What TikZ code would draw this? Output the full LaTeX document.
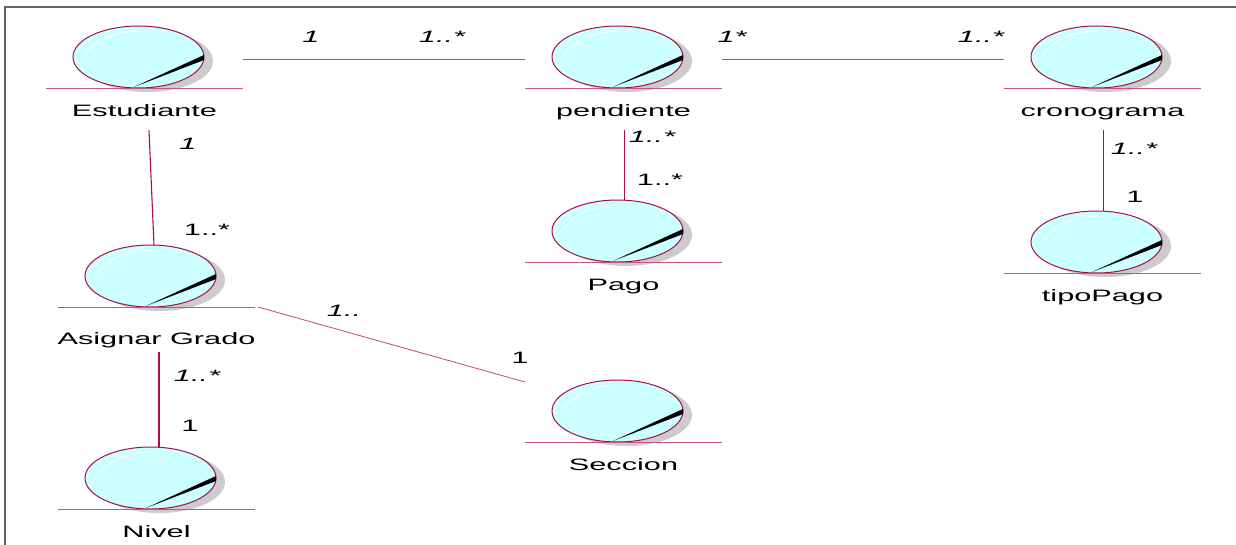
\documentclass[tikz,border=0pt]{standalone}
\usepackage{fontspec}
\setmainfont[FakeStretch=1.86]{Liberation Sans}
\usetikzlibrary{positioning}
\definecolor{linea}{HTML}{A80F45}
\definecolor{relleno}{HTML}{CCFFFF}
\definecolor{sombra}{HTML}{CCCCCC}
\definecolor{marco}{HTML}{666666}
\tikzset{
  clase/.style={rectangle, minimum width=197pt, minimum height=62pt, inner sep=0pt, outer sep=0pt},
  nombre/.style={inner sep=0pt, text height=12pt, text depth=3pt, font=\fontsize{16.5}{18}\selectfont},
  mult/.style={inner sep=0pt, font=\fontsize{16.5}{18}\selectfont\itshape},
  multr/.style={inner sep=0pt, font=\fontsize{16.5}{18}\selectfont},
  rel/.style={draw=linea!75, line width=0.8pt},
  relv/.style={draw=linea, line width=1.1pt}
}
\begin{document}
\begin{tikzpicture}[x=1pt,y=-1pt]
\useasboundingbox (0,0) rectangle (1236,545);
\draw[marco, line width=2.2pt] (5,545) coordinate (marcoa) -- (5,7) coordinate (marcob) -- (1236,7) coordinate (marcoc);

\node[clase] (estudiante) at (144.5,57) {};
\node[clase, right=282pt of estudiante] (pendiente) {};
\node[clase, right=282pt of pendiente] (cronograma) {};
\node[clase, below=112pt of pendiente] (pago) {};
\node[clase, below=123pt of cronograma] (tipopago) {};
\node[clase, below=157pt of estudiante, xshift=12pt] (asignar) {};
\node[clase, below=140pt of asignar] (nivel) {};
\node[clase, below=118pt of pago] (seccion) {};

\foreach \n in {estudiante,pendiente,cronograma,pago,tipopago,asignar,nivel,seccion}{
  \begin{scope}[shift={(\n.center)}]
    \fill[sombra] (3,4) ellipse [x radius=65.5pt, y radius=31pt];
    \draw[linea, fill=relleno, line width=1pt] (-6,0) ellipse [x radius=65.5pt, y radius=31pt];
    \draw[white, line width=0.8pt] (-59.5,-1) .. controls (-52,-18) and (-25,-26) .. (-4.5,-26);
    \fill[black] (-10.5,30) -- (59.5,-2) -- (59.5,3) -- cycle;
  \end{scope}
  \draw[linea!70, line width=0.8pt] (\n.south west) -- (\n.south east);
}

\node[nombre, below=16pt of estudiante] (estudiantetxt) {Estudiante};
\node[nombre, below=16pt of pendiente] (pendientetxt) {pendiente};
\node[nombre, below=16pt of cronograma] (cronogramatxt) {cronograma};
\node[nombre, below=16pt of pago] (pagotxt) {Pago};
\node[nombre, below=16pt of tipopago] (tipopagotxt) {tipoPago};
\node[nombre, below=25pt of asignar] (asignartxt) {Asignar Grado};
\node[nombre, below=16pt of seccion] (secciontxt) {Seccion};
\node[nombre, below=16pt of nivel] (niveltxt) {Nivel};

\draw[rel] ([yshift=-2pt]estudiante.east) -- ([yshift=-2pt]pendiente.west);
\draw[rel] ([yshift=-2pt]pendiente.east) -- ([yshift=-2pt]cronograma.west);
\draw[relv] ([xshift=4.5pt,yshift=-11pt]estudiantetxt.south) -- ([xshift=-2.5pt]asignar.north);
\draw[relv] ([xshift=1pt,yshift=-11pt]pendientetxt.south) -- ([xshift=1pt]pago.north);
\draw[relv] ([xshift=1pt,yshift=-11pt]cronogramatxt.south) -- ([xshift=1pt]tipopago.north);
\draw[relv] ([xshift=2.5pt,yshift=-5pt]asignartxt.south) -- ([xshift=2.5pt]nivel.north);
\draw[rel] ([xshift=3pt]asignar.south east) -- ([yshift=-2pt]seccion.north west);

\node[mult] (m1) at (311,37) {1};
\node[mult] (m2) at (442,37) {1..*};
\node[mult] (m3) at (732,37) {1*};
\node[mult] (m4) at (981,37) {1..*};
\node[mult] (m5) at (188,144) {1};
\node[multr] (m6) at (207,230) {1..*};
\node[mult] (m7) at (652,137) {1..*};
\node[multr] (m8) at (660,180) {1..*};
\node[mult] (m9) at (1134,149) {1..*};
\node[multr] (m10) at (1135,197) {1};
\node[mult] (m11) at (344,311) {1..};
\node[multr] (m12) at (520,358) {1};
\node[mult] (m13) at (197,376) {1..*};
\node[multr] (m14) at (190,426) {1};
\end{tikzpicture}
\end{document}
